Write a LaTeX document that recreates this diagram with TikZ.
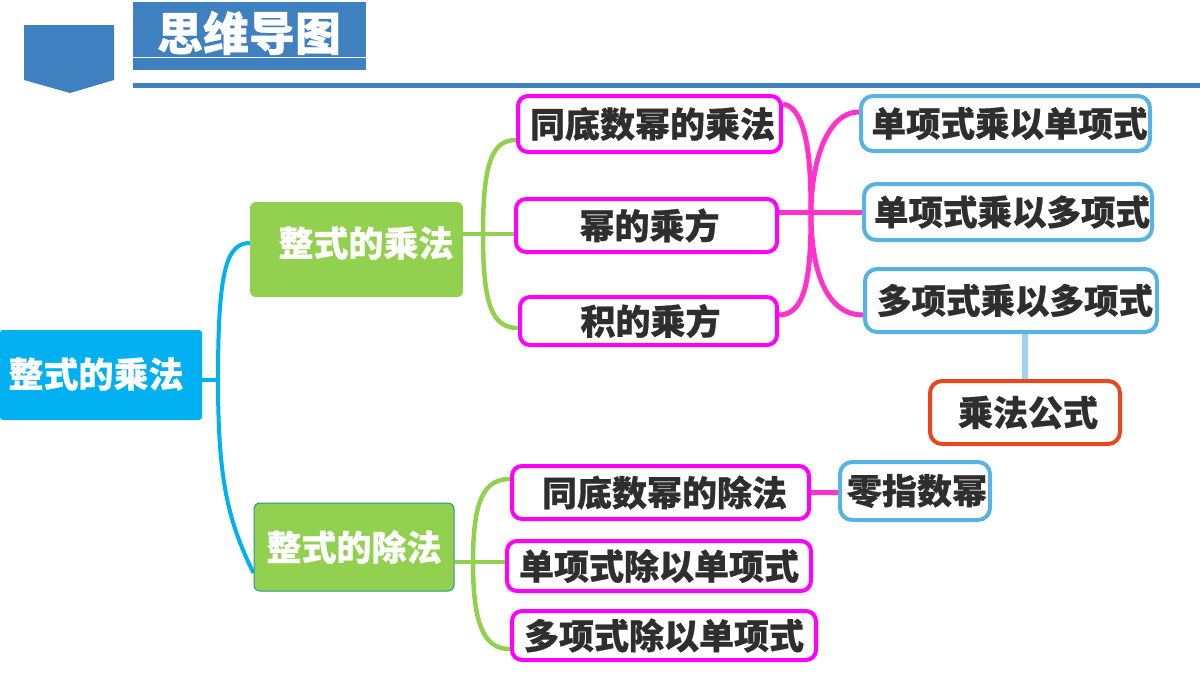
\documentclass[tikz,border=0pt]{standalone}
\usepackage{fontspec}
\newfontfamily\cjk{Noto Sans CJK SC}[BoldFeatures={FakeBold=0.6}]
\definecolor{hdrblue}{RGB}{62,128,192}
\definecolor{rootcyan}{RGB}{0,176,240}
\definecolor{leafgreen}{RGB}{146,208,80}
\definecolor{tealedge}{RGB}{40,150,140}
\definecolor{magB}{RGB}{255,0,255}
\definecolor{magC}{RGB}{255,51,204}
\definecolor{skyB}{RGB}{86,180,228}
\definecolor{skyC}{RGB}{157,211,240}
\definecolor{redB}{RGB}{232,70,28}
\definecolor{txt}{RGB}{46,46,46}
\pgfdeclarelayer{bg}
\pgfsetlayers{bg,main}
\tikzset{
  cjkfont/.style={font=\cjk\bfseries\fontsize{#1}{#1}\selectfont},
  magbox/.style={draw=magB, line width=4pt, rounded corners=10pt, fill=white, text=txt, cjkfont=35pt, inner sep=0pt},
  skybox/.style={draw=skyB, line width=4pt, rounded corners=12pt, fill=white, text=txt, cjkfont=34.5pt, inner sep=0pt},
  redbox/.style={draw=redB, line width=4pt, rounded corners=12pt, fill=white, text=txt, cjkfont=35pt, inner sep=0pt},
  greenbox/.style={fill=leafgreen, rounded corners=6pt, text=white, cjkfont=35pt, inner sep=0pt},
  rootbox/.style={fill=rootcyan, rounded corners=3pt, text=white, cjkfont=35pt, inner sep=0pt},
  bluec/.style={draw=rootcyan, line width=4pt},
  greenc/.style={draw=leafgreen, line width=4.5pt},
  magc/.style={draw=magC, line width=5pt},
  skyc/.style={draw=skyC, line width=6pt},
}
\begin{document}
\begin{tikzpicture}[x=1pt,y=-1pt]
\useasboundingbox (0,0) rectangle (1200,675);
% header
\fill[hdrblue] (24,25) -- (114,25) -- (114,80) -- (70,93) -- (24,80) -- cycle;
\node[fill=hdrblue, minimum width=233pt, minimum height=68pt, inner sep=0pt, anchor=north west] (titlebox) at (133,2) {};
\node[text=white, cjkfont=46pt, inner sep=0pt] (title) at (249,33) {思维导图};
\draw[white, line width=1pt] (titlebox.west |- 0,57.5) -- (titlebox.east |- 0,57.5);
\fill[hdrblue] (133,83) rectangle (1200,88);

% root and second level
\node[rootbox, minimum width=202pt, minimum height=90pt] (root) at (101,375) {};
\node[text=white, cjkfont=35pt, inner sep=0pt] (roottxt) at (96,374) {整式的乘法};
\node[greenbox, minimum width=213pt, minimum height=95pt] (g1) at (356.5,249.5) {};
\node[text=white, cjkfont=35pt, inner sep=0pt] (g1txt) at (366,243) {整式的乘法};
\node[greenbox, draw=tealedge, line width=1pt, minimum width=200pt, minimum height=88pt] (g2) at (354,547) {整式的除法};

% multiplication branch
\node[magbox, minimum width=263pt, minimum height=56pt] (m1) at (649.5,124) {\hspace{6pt}同底数幂的乘法};
\node[magbox, minimum width=261pt, minimum height=53pt] (m2) at (646.5,225.5) {\hspace{6pt}幂的乘方};
\node[magbox, minimum width=257pt, minimum height=48pt] (m3) at (648.5,321) {\hspace{4pt}积的乘方};
\node[skybox, minimum width=289pt, minimum height=55pt] (b1) at (1005.5,123.5) {\hspace{8pt}单项式乘以单项式};
\node[skybox, minimum width=288pt, minimum height=56pt] (b2) at (1008,212) {\hspace{8pt}单项式乘以多项式};
\node[skybox, minimum width=292pt, minimum height=63pt] (b3) at (1011,300.5) {\hspace{8pt}多项式乘以多项式};
\node[redbox, minimum width=190pt, minimum height=63pt] (r) at (1025,412.5) {\hspace{6pt}乘法公式};

% division branch
\node[magbox, minimum width=297pt, minimum height=53pt] (d1) at (660.5,492.5) {\hspace{8pt}同底数幂的除法};
\node[magbox, minimum width=304pt, minimum height=50pt] (d2) at (659,566) {单项式除以单项式};
\node[magbox, minimum width=304pt, minimum height=49pt] (d3) at (664,635.5) {多项式除以单项式};
\node[skybox, cjkfont=35pt, minimum width=150pt, minimum height=58pt] (z) at (915,491) {\hspace{4pt}零指数幂};

% junctions
\coordinate (j0) at (218,380);
\coordinate (j1) at (483,234);
\coordinate (j2) at (473,562);

\begin{pgfonlayer}{bg}
% root connectors
\draw[bluec] (root.east |- j0) -- (j0);
\draw[bluec] (j0) .. controls (218,272) and (226,243) .. ([yshift=6.5pt]g1.west);
\draw[bluec] (j0) .. controls (218,480) and (228,521) .. ([yshift=-26pt]g2.west);
% upper green connectors
\draw[greenc] (g1.east |- j1) -- (m2.west |- j1);
\draw[greenc] (j1) .. controls (483,163) and (492,140) .. ([yshift=-16pt]m1.west);
\draw[greenc] (j1) .. controls (483,305) and (492,328) .. ([yshift=-7pt]m3.west);
% magenta connectors
\draw[magc] ([yshift=20pt]m1.east) .. controls (808,108) and (811,165) .. (811,213)
            .. controls (811,275) and (806,315) .. ([yshift=6pt]m3.east);
\draw[magc] ([yshift=11.5pt]b1.west) .. controls (826,112) and (811,165) .. (811,213)
            .. controls (811,270) and (826,315) .. ([yshift=-14.5pt]b3.west);
\draw[magc] (m2.east |- b2.west) -- (b2.west);
\draw[skyc] (b3.south -| r.north) -- (r.north);
% lower green connectors
\draw[greenc] (g2.east |- j2) -- (d2.west |- j2);
\draw[greenc] (j2) .. controls (473,500) and (484,479) .. ([yshift=13.5pt]d1.west);
\draw[greenc] (j2) .. controls (473,625) and (484,649) .. ([yshift=-13.5pt]d3.west);
\draw[magc] (d1.east) -- (d1.east -| z.west);
\end{pgfonlayer}
\end{tikzpicture}
\end{document}
